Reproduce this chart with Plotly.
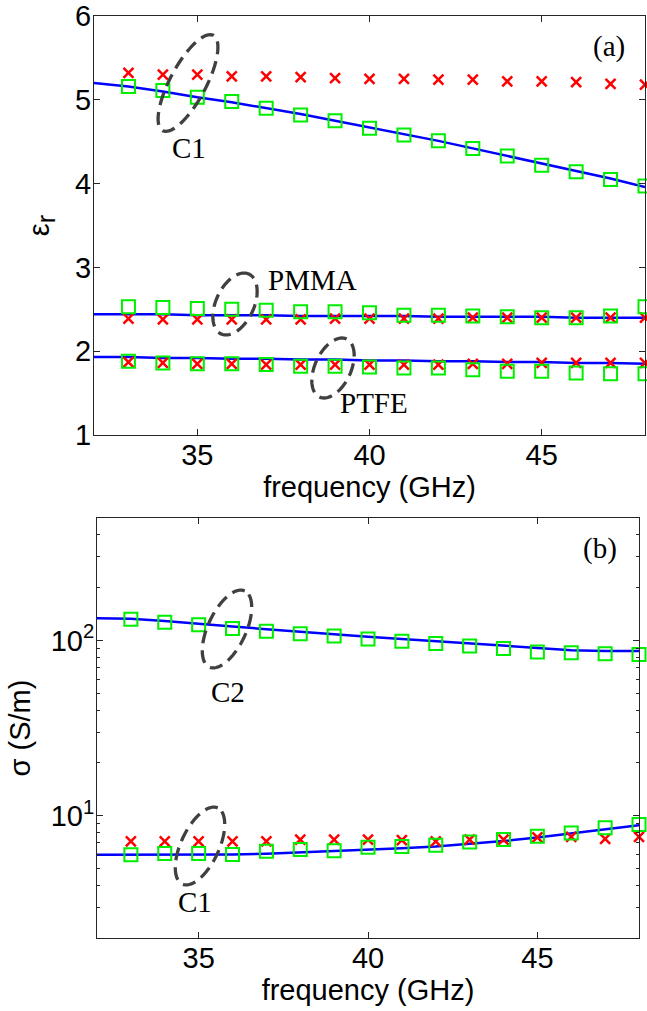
import math
import plotly.graph_objects as go

# ---------------- data ----------------
freq = [33, 34, 35, 36, 37, 38, 39, 40, 41, 42, 43, 44, 45, 46, 47, 48]
freq_line = [32, 33, 34, 35, 36, 37, 38, 39, 40, 41, 42, 43, 44, 45, 46, 47, 48]

# panel (a): relative permittivity
c1_eps_meas = [5.32, 5.30, 5.30, 5.28, 5.28, 5.27, 5.26, 5.25, 5.25, 5.24, 5.24, 5.22, 5.22, 5.21, 5.19, 5.18]
c1_eps_sim = [5.16, 5.11, 5.03, 4.98, 4.90, 4.82, 4.75, 4.66, 4.58, 4.51, 4.42, 4.33, 4.22, 4.14, 4.05, 3.97]
c1_eps_fit = [5.20, 5.16, 5.10, 5.03, 4.97, 4.90, 4.83, 4.75, 4.67, 4.59, 4.51, 4.42, 4.33, 4.24, 4.15, 4.06, 3.96]

pmma_eps_meas = [2.39, 2.38, 2.38, 2.38, 2.38, 2.38, 2.39, 2.39, 2.39, 2.39, 2.40, 2.40, 2.40, 2.40, 2.40, 2.40]
pmma_eps_sim = [2.53, 2.52, 2.51, 2.50, 2.49, 2.47, 2.47, 2.46, 2.43, 2.43, 2.42, 2.41, 2.40, 2.40, 2.42, 2.53]
pmma_eps_fit = [2.44, 2.44, 2.44, 2.43, 2.43, 2.43, 2.42, 2.42, 2.42, 2.42, 2.41, 2.41, 2.41, 2.41, 2.40, 2.40, 2.40]

ptfe_eps_meas = [1.87, 1.86, 1.85, 1.85, 1.84, 1.84, 1.84, 1.84, 1.84, 1.84, 1.85, 1.85, 1.86, 1.86, 1.86, 1.86]
ptfe_eps_sim = [1.88, 1.86, 1.85, 1.85, 1.84, 1.82, 1.82, 1.81, 1.80, 1.80, 1.78, 1.76, 1.76, 1.74, 1.73, 1.73]
ptfe_eps_fit = [1.93, 1.93, 1.92, 1.92, 1.91, 1.91, 1.90, 1.90, 1.89, 1.89, 1.88, 1.88, 1.87, 1.87, 1.86, 1.86, 1.85]

# panel (b): conductivity (S/m)
c2_sig_sim = [132, 127, 123, 117, 113, 109, 106, 102, 99, 96, 93, 90, 86, 85, 84, 83]
c2_sig_fit = [134, 133, 129, 124, 120, 116, 112, 109, 105, 102, 99, 96, 93, 90, 88, 87, 87]

c1_sig_meas = [7.13, 7.13, 7.13, 7.13, 7.13, 7.3, 7.3, 7.3, 7.25, 7.13, 7.3, 7.3, 7.5, 7.55, 7.36, 7.55]
c1_sig_sim = [5.98, 6.07, 6.07, 6.0, 6.25, 6.4, 6.3, 6.6, 6.67, 6.77, 7.06, 7.3, 7.63, 7.96, 8.51, 8.89]
c1_sig_fit = [5.98, 5.98, 5.98, 5.98, 6.0, 6.05, 6.15, 6.25, 6.35, 6.5, 6.65, 6.9, 7.15, 7.5, 7.9, 8.3, 8.8]

x_ticks = [35, 40, 45]
eps_ticks = [1, 2, 3, 4, 5, 6]
sig_ticks = [10, 100]
sig_ticktext = ["10<sup>1</sup>", "10<sup>2</sup>"]
sig_minor = [3, 4, 5, 6, 7, 8, 9, 20, 30, 40, 50, 60, 70, 80, 90, 200, 300, 400]

# ---------------- figure ----------------
W, H = 647, 1011
RED = "#ff0000"
GREEN = "#00ee00"
BLUE = "#0000ff"

fig = go.Figure()

def add_panel(xa, ya, fit, sim, meas=None):
    fig.add_trace(go.Scatter(x=freq_line, y=fit, mode="lines", line=dict(color=BLUE, width=2.5),
                             xaxis=xa, yaxis=ya, showlegend=False, cliponaxis=False))
    if meas is not None:
        fig.add_trace(go.Scatter(x=freq, y=meas, mode="markers",
                                 marker=dict(symbol="x-thin-open", size=10, color=RED,
                                             line=dict(color=RED, width=2.5)),
                                 xaxis=xa, yaxis=ya, showlegend=False, cliponaxis=False))
    fig.add_trace(go.Scatter(x=freq, y=sim, mode="markers",
                             marker=dict(symbol="square-open", size=13, color=GREEN,
                                         line=dict(color=GREEN, width=2)),
                             xaxis=xa, yaxis=ya, showlegend=False, cliponaxis=False))

add_panel("x", "y", c1_eps_fit, c1_eps_sim, c1_eps_meas)
add_panel("x", "y", pmma_eps_fit, pmma_eps_sim, pmma_eps_meas)
add_panel("x", "y", ptfe_eps_fit, ptfe_eps_sim, ptfe_eps_meas)
add_panel("x2", "y2", c2_sig_fit, c2_sig_sim)
add_panel("x2", "y2", c1_sig_fit, c1_sig_sim, c1_sig_meas)

AX = "#262626"
TICKFONT = dict(family="Liberation Sans, Arial, sans-serif", size=29, color="black")
common = dict(showline=True, linecolor=AX, linewidth=1, mirror="ticks", ticks="inside",
              ticklen=6, tickcolor=AX, tickwidth=1, showgrid=False, zeroline=False,
              tickfont=TICKFONT, automargin=False, ticklabeloverflow="allow")

def fx(px):
    return px / W

def fy(py):
    return 1 - py / H

fig.update_layout(
    width=W, height=H,
    margin=dict(l=0, r=0, t=0, b=0),
    paper_bgcolor="white", plot_bgcolor="white",
    showlegend=False,
    xaxis=dict(domain=[fx(94), fx(645)], range=[32, 48], tickmode="array", tickvals=x_ticks,
               ticklabelstandoff=-6,
               title=dict(text="frequency (GHz)", font=TICKFONT, standoff=0), anchor="y", **common),
    yaxis=dict(domain=[fy(435), fy(16)], range=[1, 6], tickmode="array", tickvals=eps_ticks,
               ticklabelstandoff=-4,
               title=dict(text="ε<sub><span style='font-size:25px'>r</span></sub>", font=TICKFONT,
                          standoff=16), anchor="x", **common),
    xaxis2=dict(domain=[fx(97), fx(639)], range=[32, 48], tickmode="array", tickvals=x_ticks,
                ticklabelstandoff=-6,
                title=dict(text="frequency (GHz)", font=TICKFONT, standoff=0), anchor="y2", **common),
    yaxis2=dict(domain=[fy(938), fy(518)], type="log",
                range=[math.log10(2), math.log10(500)], tickmode="array", tickvals=sig_ticks,
                ticktext=sig_ticktext, ticklabelstandoff=-4,
                minor=dict(tickmode="array", tickvals=sig_minor, ticks="inside", ticklen=3,
                           tickcolor=AX, tickwidth=1, showgrid=False),
                title=dict(text="σ (S/m)", font=TICKFONT, standoff=11), anchor="x2", **common),
)

# dashed ellipses marking curve groups (pixel centre, semi-axes, tilt)
def ellipse_path(cx, cy, a, b, ang_deg, n=72):
    t = math.radians(ang_deg)
    pts = []
    for i in range(n + 1):
        u = 2 * math.pi * i / n
        ex = a * math.cos(u)
        ey = b * math.sin(u)
        px = cx + ex * math.cos(t) - ey * math.sin(t)
        py = cy - (ex * math.sin(t) + ey * math.cos(t))
        pts.append(f"{fx(px):.5f},{fy(py):.5f}")
    return "M " + " L ".join(pts) + " Z"

ellipses = [
    (188, 83, 54, 18, 62),
    (235, 304, 33, 19, 65),
    (333, 368, 32, 18, 65),
    (227, 629, 42, 19, 65),
    (200, 846, 42, 19, 65),
]
for cx, cy, a, b, ang in ellipses:
    fig.add_shape(type="path", path=ellipse_path(cx, cy, a, b, ang), xref="paper", yref="paper",
                  line=dict(color="#404040", width=3.3, dash="13px,7px"))

SERIF = dict(family="Liberation Serif, Times New Roman, serif", size=29, color="black")
labels = [
    ("(a)", 609, 47), ("C1", 189, 148), ("PMMA", 312, 280), ("PTFE", 374, 403),
    ("(b)", 600, 548), ("C2", 228, 692), ("C1", 195, 902),
]
for txt, px, py in labels:
    fig.add_annotation(text=txt, x=fx(px), y=fy(py), xref="paper", yref="paper", showarrow=False,
                       font=SERIF, xanchor="center", yanchor="middle")

# the page is photographed edge to edge: drop the default body margin
fig.write_html("out.html", config={"displayModeBar": False},
               post_script="document.body.style.margin='0px';document.body.style.overflow='hidden';")
